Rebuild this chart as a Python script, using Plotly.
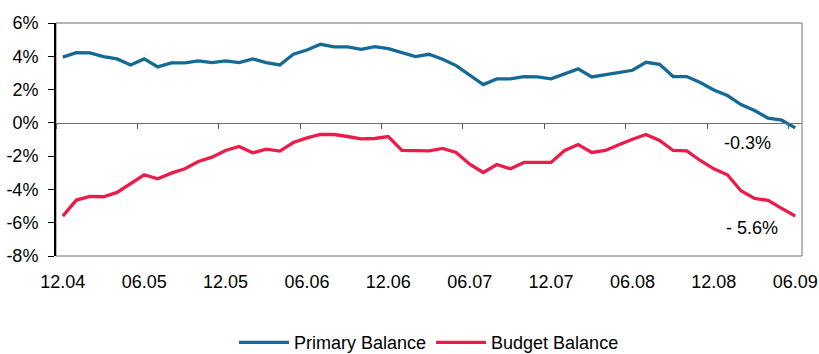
import plotly.graph_objects as go

tick_labels = ["12.04", "06.05", "12.05", "06.06", "12.06", "06.07", "12.07", "06.08", "12.08", "06.09"]
y_tick_values = [-8, -6, -4, -2, 0, 2, 4, 6]
y_tick_labels = ["-8%", "-6%", "-4%", "-2%", "0%", "2%", "4%", "6%"]

primary_balance = [3.95, 4.22, 4.2, 3.98, 3.84, 3.48, 3.84, 3.36, 3.6, 3.6,
                   3.72, 3.62, 3.72, 3.62, 3.84, 3.62, 3.48, 4.12, 4.38, 4.72,
                   4.56, 4.56, 4.42, 4.58, 4.46, 4.22, 3.98, 4.12, 3.82, 3.44,
                   2.86, 2.3, 2.64, 2.64, 2.78, 2.76, 2.64, 2.94, 3.24, 2.76,
                   2.88, 3.02, 3.16, 3.64, 3.52, 2.78, 2.78, 2.42, 1.98, 1.64,
                   1.1, 0.74, 0.28, 0.16, -0.3]

budget_balance = [-5.6, -4.64, -4.42, -4.44, -4.18, -3.66, -3.12, -3.36, -3.02, -2.76,
                  -2.32, -2.06, -1.66, -1.42, -1.8, -1.58, -1.7, -1.18, -0.9, -0.7,
                  -0.7, -0.82, -0.96, -0.94, -0.82, -1.66, -1.68, -1.68, -1.54, -1.78,
                  -2.48, -2.98, -2.5, -2.76, -2.38, -2.38, -2.38, -1.66, -1.3, -1.78,
                  -1.66, -1.32, -0.98, -0.7, -1.06, -1.66, -1.68, -2.26, -2.76, -3.12,
                  -4.08, -4.54, -4.66, -5.14, -5.6]

end_labels = ["-0.3%", "- 5.6%"]

n = len(primary_balance)
idx = list(range(n))
label_pos = list(range(0, n, 6))
boundary_pos = [p - 0.5 for p in label_pos]

BLUE = "#156a95"
RED = "#ec1c4a"
FONT = "Liberation Sans, Arial, sans-serif"
FS = 18

fig = go.Figure()
fig.add_trace(go.Scatter(x=idx, y=primary_balance, mode="lines", name="Primary Balance",
                         line=dict(color=BLUE, width=3.3)))
fig.add_trace(go.Scatter(x=idx, y=budget_balance, mode="lines", name="Budget Balance",
                         line=dict(color=RED, width=3.3)))
# invisible trace to activate the zero-line tick axis
fig.add_trace(go.Scatter(x=[idx[0]], y=[0], xaxis="x2", mode="markers",
                         marker=dict(opacity=0), showlegend=False, hoverinfo="skip"))

xr = [-0.5, n - 0.5]
fig.update_layout(
    width=819, height=354,
    margin=dict(l=56, r=17, t=23, b=98),
    paper_bgcolor="white", plot_bgcolor="white",
    font=dict(family=FONT, size=FS, color="#000000"),
    showlegend=True,
    legend=dict(orientation="h", x=0.5, xanchor="center", yref="container", y=0.032,
                yanchor="middle", font=dict(size=FS), itemwidth=50, traceorder="normal"),
    xaxis=dict(range=xr, tickmode="array", tickvals=label_pos, ticktext=tick_labels,
               showgrid=False, zeroline=False, showline=False, ticks="",
               ticklabelstandoff=13, automargin=False),
    xaxis2=dict(range=xr, overlaying="x", anchor="free", position=8 / 14, side="bottom",
                tickmode="array", tickvals=boundary_pos, showticklabels=False,
                ticks="outside", ticklen=5, tickwidth=1, tickcolor="#555555",
                showline=True, linecolor="#6e6e6e", linewidth=1,
                showgrid=False, zeroline=False, automargin=False),
    yaxis=dict(range=[-8, 6], tickmode="array", tickvals=y_tick_values, ticktext=y_tick_labels,
               showgrid=False, zeroline=False,
               showline=True, linecolor="#000000", linewidth=2,
               ticks="outside", ticklen=6, tickwidth=1, tickcolor="#000000",
               ticklabelstandoff=6, automargin=False),
    shapes=[dict(type="rect", xref="paper", yref="paper", x0=0, x1=1, y0=0, y1=1,
                 line=dict(color="#6e6e6e", width=1), layer="below")],
    annotations=[
        dict(x=50.5, y=-1.22, text=end_labels[0], showarrow=False,
             font=dict(size=FS), xanchor="center", yanchor="middle"),
        dict(x=50.85, y=-6.3, text=end_labels[1], showarrow=False,
             font=dict(size=FS), xanchor="center", yanchor="middle"),
    ],
)

fig.write_html("out.html", config={"displayModeBar": False})
